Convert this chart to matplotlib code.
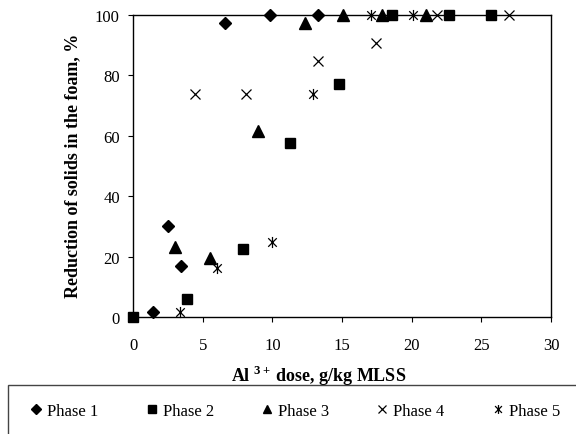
import matplotlib
matplotlib.use("Agg")
import matplotlib.pyplot as plt
from matplotlib.path import Path
from matplotlib.patches import Rectangle

plt.rcParams['font.family'] = ['Liberation Serif', 'DejaVu Serif']
plt.rcParams['mathtext.fontset'] = 'custom'
plt.rcParams['mathtext.rm'] = 'Liberation Serif'
plt.rcParams['mathtext.bf'] = 'Liberation Serif:bold'

phase1_x = [1.4, 2.5, 3.45, 6.6, 9.8, 13.3]
phase1_y = [1.5, 30.0, 17.0, 97.2, 100, 100]
phase2_x = [0.0, 3.9, 7.9, 11.3, 14.8, 18.6, 22.7, 25.7]
phase2_y = [0.0, 6.0, 22.5, 57.6, 77.0, 100, 100, 100]
phase3_x = [3.0, 5.5, 9.0, 12.35, 15.05, 17.85, 21.0]
phase3_y = [23.1, 19.6, 61.7, 97.4, 100, 100, 100]
phase4_x = [4.45, 8.1, 13.3, 17.45, 21.8, 27.0]
phase4_y = [74.0, 74.0, 84.8, 90.7, 100, 100]
phase5_x = [3.35, 6.05, 9.95, 12.9, 17.1, 20.1]
phase5_y = [1.5, 16.1, 24.9, 74.0, 100, 100]

xticks = [0, 5, 10, 15, 20, 25, 30]
yticks = [0, 20, 40, 60, 80, 100]

star = Path([(-1, -1), (1, 1), (-1, 1), (1, -1), (0, -1.3), (0, 1.3)],
            [Path.MOVETO, Path.LINETO, Path.MOVETO, Path.LINETO, Path.MOVETO, Path.LINETO])

fig = plt.figure(figsize=(5.76, 4.35), dpi=100)
ax = fig.add_axes([133/576, 1-318/435, (551-133)/576, (318-16)/435])

kw = dict(linestyle='none', color='black', clip_on=False)
ax.plot(phase1_x, phase1_y, marker='D', markersize=6.5, label='Phase 1', **kw)
ax.plot(phase2_x, phase2_y, marker='s', markersize=7, label='Phase 2', **kw)
ax.plot(phase3_x, phase3_y, marker='^', markersize=8, label='Phase 3', **kw)
ax.plot(phase4_x, phase4_y, marker='x', markersize=7, markeredgewidth=0.9, label='Phase 4', **kw)
ax.plot(phase5_x, phase5_y, marker=star, markersize=8, markeredgewidth=0.9, fillstyle='none', label='Phase 5', **kw)

ax.set_xlim(0, 30)
ax.set_ylim(0, 100)
ax.set_xticks(xticks)
ax.set_yticks(yticks)
ax.tick_params(axis='both', direction='out', length=3.5, width=0.8, labelsize=12)
ax.tick_params(axis='x', pad=11)
ax.tick_params(axis='y', pad=6)
for s in ax.spines.values():
    s.set_linewidth(1.0)

fig.text(73/576, 1-166/435, 'Reduction of solids in the foam, %', fontsize=13,
         fontweight='bold', rotation=90, ha='center', va='center')
fig.text(319/576, 1-376/435, r'Al $^{\mathbf{3+}}\,$dose, g/kg MLSS', fontsize=13,
         fontweight='bold', ha='center', va='center')

fig.patches.append(Rectangle((8/576, -0.2), 1.2, 0.2 + (1-386/435), transform=fig.transFigure,
                             fill=False, edgecolor='#444444', linewidth=1.0))

handles, labels = ax.get_legend_handles_labels()
fig.legend(handles, labels, loc='center', bbox_to_anchor=(294/576, 1-412/435), ncol=5,
           frameon=False, fontsize=12, handletextpad=0.15, columnspacing=2.7,
           handlelength=1.0, markerscale=0.8, borderaxespad=0, borderpad=0)

fig.savefig('out.png', dpi=100)
